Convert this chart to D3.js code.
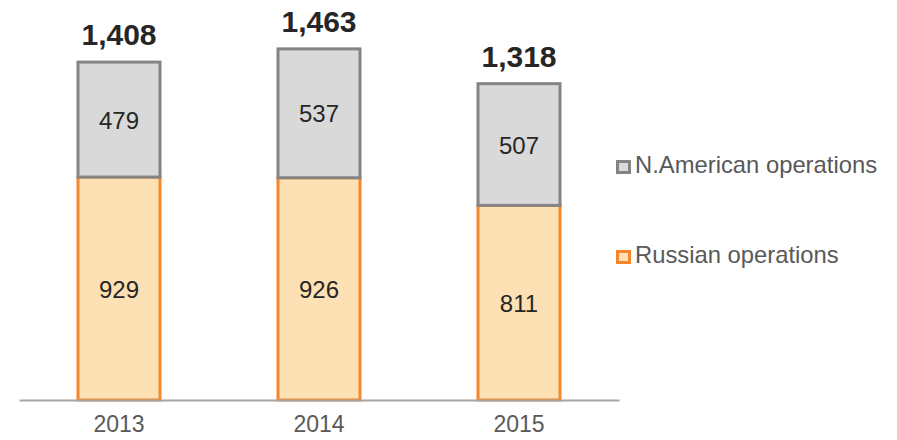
<!DOCTYPE html>
<html>
<head>
<meta charset="utf-8">
<script src="https://cdn.jsdelivr.net/npm/d3@7"></script>
<style>
  body { margin: 0; background: #fff; }
  text { font-family: Arial, "Liberation Sans", sans-serif; }
</style>
</head>
<body>
<div id="chart"></div>
<script>
// data
var years = ["2013", "2014", "2015"];
var russian = [929, 926, 811];
var american = [479, 537, 507];
var seriesNames = ["N.American operations", "Russian operations"];

var width = 897,
  height = 440,
  axisY = 400;

var svg = d3.select("#chart").append("svg")
  .attr("width", width)
  .attr("height", height);

var x = d3.scaleBand()
  .domain(years)
  .range([19, 619])
  .paddingInner(0.59)
  .paddingOuter(0.295);

// 0.24 px per unit
var y = d3.scaleLinear()
  .domain([0, 1500])
  .range([axisY, axisY - 1500 * 0.24]);

var rows = years.map(function(yr, i) {
  return { year: yr, rus: russian[i], am: american[i], total: russian[i] + american[i] };
});

var bars = svg.selectAll(".bar")
  .data(rows)
  .enter()
  .append("g")
  .attr("class", "bar");

// russian (bottom) segment
bars.append("rect")
  .attr("x", d => x(d.year))
  .attr("width", x.bandwidth())
  .attr("y", d => y(d.rus))
  .attr("height", d => y(0) - y(d.rus))
  .attr("fill", "#fde1b4")
  .attr("stroke", "#f5862c")
  .attr("stroke-width", 3);

// n.american (top) segment
bars.append("rect")
  .attr("x", d => x(d.year))
  .attr("width", x.bandwidth())
  .attr("y", d => y(d.total))
  .attr("height", d => y(d.rus) - y(d.total))
  .attr("fill", "#d9d9d9")
  .attr("stroke", "#848484")
  .attr("stroke-width", 3);

// values inside segments
bars.append("text")
  .attr("x", d => x(d.year) + x.bandwidth() / 2)
  .attr("y", d => (y(0) + y(d.rus)) / 2 + 9)
  .attr("text-anchor", "middle")
  .attr("font-size", "24px")
  .attr("fill", "#262626")
  .text(d => d3.format(",")(d.rus));

bars.append("text")
  .attr("x", d => x(d.year) + x.bandwidth() / 2)
  .attr("y", d => (y(d.rus) + y(d.total)) / 2 + 9)
  .attr("text-anchor", "middle")
  .attr("font-size", "24px")
  .attr("fill", "#262626")
  .text(d => d3.format(",")(d.am));

// totals
bars.append("text")
  .attr("x", d => x(d.year) + x.bandwidth() / 2)
  .attr("y", d => y(d.total) - 17)
  .attr("text-anchor", "middle")
  .attr("font-size", "30px")
  .attr("font-weight", "bold")
  .attr("fill", "#262626")
  .text(d => d3.format(",")(d.total));

// x axis
var xAxis = d3.axisBottom(x).tickSize(0).tickPadding(16);
var gx = svg.append("g")
  .attr("transform", "translate(0," + axisY + ")")
  .call(xAxis);
gx.select(".domain")
  .attr("stroke", "#a6a6a6")
  .attr("stroke-width", 2);
gx.selectAll("text")
  .attr("font-size", "23px")
  .attr("fill", "#595959")
  .attr("font-family", "Arial, 'Liberation Sans', sans-serif");

// legend
var legend = [
  { name: seriesNames[0], fill: "#d9d9d9", stroke: "#848484", y: 173 },
  { name: seriesNames[1], fill: "#fde1b4", stroke: "#f5862c", y: 263 }
];
var lg = svg.selectAll(".legend")
  .data(legend)
  .enter()
  .append("g")
  .attr("class", "legend");
lg.append("rect")
  .attr("x", 617.5)
  .attr("y", d => d.y - 11.5)
  .attr("width", 12)
  .attr("height", 11)
  .attr("fill", d => d.fill)
  .attr("stroke", d => d.stroke)
  .attr("stroke-width", 3);
lg.append("text")
  .attr("x", 635)
  .attr("y", d => d.y)
  .attr("font-size", "23.8px")
  .attr("fill", "#595959")
  .text(d => d.name);
</script>
</body>
</html>
